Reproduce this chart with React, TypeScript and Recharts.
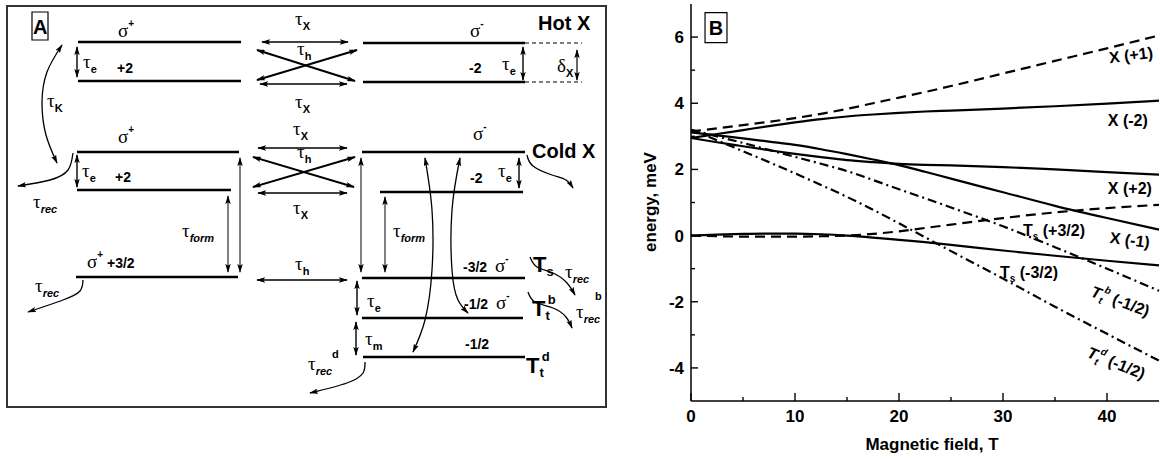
import React from 'react';
import { ComposedChart, Line, XAxis, YAxis, ReferenceLine, ReferenceArea, ReferenceDot } from 'recharts';

const SANS = '"Liberation Sans", Arial, Helvetica, sans-serif';
const SERIF = '"Liberation Serif", "Times New Roman", serif';

// ---------- panel A: level scheme (diagram units = pixels) ----------
// [x1, x2, y]
const levels = [
  [78, 241, 42], [78, 241, 81], [363, 525, 43], [363, 525, 82],
  [77, 239, 152], [77, 231, 190], [362, 525, 152], [380, 523, 192],
  [76, 238, 277], [362, 525, 278], [362, 523, 318], [363, 525, 357],
];

// [x1, y1, x2, y2, strokeWidth], double headed
const arrows = [
  [262, 42, 348, 42, 1.6], [260, 84, 347, 84, 1.6], [257, 50, 355, 81, 2], [257, 80, 357, 50, 2],
  [77, 47, 77, 77, 1.4], [523, 47, 523, 80, 1.4], [577, 50, 577, 80, 1.2],
  [258, 148, 347, 148, 1.6], [258, 193, 347, 193, 1.6], [253, 157, 354, 187, 2], [253, 187, 355, 157, 2],
  [77, 155, 77, 187, 1.4], [519, 158, 519, 188, 1.4],
  [228, 196, 228, 272, 1], [240, 158, 240, 272, 1], [361, 158, 361, 272, 1], [385, 197, 385, 272, 1],
  [257, 280, 347, 280, 1.4], [357, 281, 357, 315, 1.4], [356, 322, 356, 355, 1.4],
];

// dashed guides to the δX arrow
const guides = [[525, 43, 582, 43], [525, 82, 582, 82]];

// curved arrows
const curves = [
  { pts: [[62, 45], [47, 72], [42, 103], [46, 135], [57, 163]], both: true },
  { pts: [[73, 153], [68, 170], [50, 180], [18, 186]], both: false },
  { pts: [[83, 280], [80, 291], [63, 300], [28, 312]], both: false },
  { pts: [[527, 155], [533, 166], [552, 175], [566, 180], [573, 188]], both: false },
  { pts: [[530, 257], [537, 267], [553, 273], [567, 283], [575, 295]], both: false },
  { pts: [[528, 292], [535, 302], [553, 308], [566, 317], [572, 328]], both: false },
  { pts: [[365, 362], [363, 373], [347, 383], [310, 393]], both: false },
  { pts: [[425, 158], [432, 210], [432, 270], [425, 320], [413, 352]], both: true },
  { pts: [[460, 158], [452, 210], [452, 270], [458, 300], [468, 313]], both: true },
];

// [x, baseline y, parts]
const textsA: [number, number, [string, string][]][] = [
  [33, 34, [['A', 'big']]],
  [118, 37, [['σ', 'g'], ['+', 'sup']]],
  [470, 37, [['σ', 'g'], ['-', 'sup']]],
  [538, 30, [['Hot X', 'big']]],
  [295, 25, [['τ', 'g'], ['X', 'sub']]],
  [297, 55, [['τ', 'g'], ['h', 'sub']]],
  [295, 108, [['τ', 'g'], ['X', 'sub']]],
  [83, 68, [['τ', 'g'], ['e', 'sub']]],
  [117, 73, [['+2', 'b']]],
  [502, 70, [['τ', 'g'], ['e', 'sub']]],
  [469, 73, [['-2', 'b']]],
  [557, 72, [['δ', 'g'], ['X', 'sub']]],
  [47, 107, [['τ', 'g'], ['K', 'sub']]],
  [118, 143, [['σ', 'g'], ['+', 'sup']]],
  [473, 140, [['σ', 'g'], ['-', 'sup']]],
  [532, 158, [['Cold X', 'big']]],
  [293, 135, [['τ', 'g'], ['X', 'sub']]],
  [297, 158, [['τ', 'g'], ['h', 'sub']]],
  [293, 214, [['τ', 'g'], ['X', 'sub']]],
  [82, 177, [['τ', 'g'], ['e', 'sub']]],
  [115, 182, [['+2', 'b']]],
  [498, 177, [['τ', 'g'], ['e', 'sub']]],
  [470, 183, [['-2', 'b']]],
  [33, 208, [['τ', 'g'], ['rec', 'subi']]],
  [182, 237, [['τ', 'g'], ['form', 'subi']]],
  [393, 237, [['τ', 'g'], ['form', 'subi']]],
  [87, 268, [['σ', 'g'], ['+', 'sup'], [' +3/2', 'b']]],
  [35, 292, [['τ', 'g'], ['rec', 'subi']]],
  [295, 270, [['τ', 'g'], ['h', 'sub']]],
  [463, 272, [['-3/2  ', 'b'], ['σ', 'g'], ['-', 'sup']]],
  [533, 272, [['T', 'T'], ['s', 'subT']]],
  [565, 278, [['τ', 'g'], ['rec', 'subi']]],
  [367, 307, [['τ', 'g'], ['e', 'sub']]],
  [464, 309, [['-1/2  ', 'b'], ['σ', 'g'], ['-', 'sup']]],
  [532, 316, [['T', 'T'], ['t', 'subT'], ['b', 'supT']]],
  [576, 318, [['τ', 'g'], ['rec', 'subi']]],
  [595, 300, [['b', 'small']]],
  [365, 345, [['τ', 'g'], ['m', 'sub']]],
  [465, 349, [['-1/2', 'b']]],
  [526, 373, [['T', 'T'], ['t', 'subT'], ['d', 'supT']]],
  [308, 370, [['τ', 'g'], ['rec', 'subi']]],
  [332, 358, [['d', 'small']]],
];

// ---------- panel B: energy vs magnetic field ----------
const fields = [0, 2.5, 5, 7.5, 10, 12.5, 15, 17.5, 20, 22.5, 25, 30, 35, 40, 45];
const xPlus1 = [3.15, 3.24, 3.34, 3.44, 3.55, 3.68, 3.83, 4.0, 4.17, 4.34, 4.52, 4.9, 5.28, 5.66, 6.05];
const xMinus2 = [2.95, 3.07, 3.19, 3.31, 3.42, 3.52, 3.6, 3.66, 3.71, 3.75, 3.78, 3.84, 3.91, 3.99, 4.08];
const xPlus2 = [2.95, 2.82, 2.7, 2.58, 2.47, 2.37, 2.28, 2.22, 2.17, 2.14, 2.12, 2.07, 2.0, 1.92, 1.84];
const xMinus1 = [3.12, 3.03, 2.94, 2.84, 2.74, 2.61, 2.46, 2.3, 2.13, 1.93, 1.72, 1.31, 0.9, 0.53, 0.18];
const tsPlus = [0, -0.02, -0.03, -0.03, -0.03, -0.02, 0, 0.05, 0.13, 0.23, 0.33, 0.53, 0.7, 0.83, 0.93];
const tsMinus = [0, 0.03, 0.05, 0.06, 0.06, 0.04, 0, -0.06, -0.13, -0.2, -0.28, -0.45, -0.61, -0.76, -0.9];
const ttB = [3.2, 3.0, 2.8, 2.59, 2.38, 2.17, 1.95, 1.68, 1.4, 1.13, 0.85, 0.28, -0.35, -1.0, -1.67];
const ttD = [3.2, 2.88, 2.55, 2.22, 1.88, 1.53, 1.17, 0.78, 0.37, -0.05, -0.47, -1.3, -2.15, -2.97, -3.78];

const bTable = fields.map((f, i) => ({
  field: f, xPlus1: xPlus1[i], xMinus2: xMinus2[i], xPlus2: xPlus2[i], xMinus1: xMinus1[i],
  tsPlus: tsPlus[i], tsMinus: tsMinus[i], ttB: ttB[i], ttD: ttD[i],
}));

const DASH = '10 6';
const DASHDOT = '9 4 2 4';
const series = [
  { key: 'xPlus1', dash: DASH }, { key: 'xMinus2', dash: undefined }, { key: 'xPlus2', dash: undefined },
  { key: 'xMinus1', dash: undefined }, { key: 'tsPlus', dash: DASH }, { key: 'tsMinus', dash: undefined },
  { key: 'ttB', dash: DASHDOT }, { key: 'ttD', dash: DASHDOT },
];

const xTicks = [0, 5, 10, 15, 20, 25, 30, 35, 40];
const yTicks = [-4, -3, -2, -1, 0, 1, 2, 3, 4, 5, 6];

// [field, energy, rotation, parts]
const labelsB: [number, number, number, [string, string][]][] = [
  [42.3, 5.47, -7, [['X (+1)', 'bl']]],
  [42.0, 3.48, 0, [['X (-2)', 'bl']]],
  [42.2, 1.45, 0, [['X (+2)', 'bl']]],
  [42.2, -0.12, 7, [['X (-1)', 'bl']]],
  [34.9, 0.18, 0, [['T', 'bl'], ['s', 'bsub'], [' (+3/2)', 'bl']]],
  [32.5, -1.09, 0, [['T', 'bl'], ['s', 'bsub'], [' (-3/2)', 'bl']]],
  [41.3, -1.97, 20, [['T', 'bli'], ['t', 'bsubi'], ['b', 'bsupi'], [' (-1/2)', 'bl']]],
  [40.9, -3.84, 22, [['T', 'bli'], ['t', 'bsubi'], ['d', 'bsupi'], [' (-1/2)', 'bl']]],
];

type F = { family: string; size: number; weight?: string; style?: string; shift: number; dx?: number };
const FONT: Record<string, F> = {
  g: { family: SERIF, size: 19, shift: 0 },
  b: { family: SANS, size: 14, weight: 'bold', shift: 0 },
  big: { family: SANS, size: 20, weight: 'bold', shift: 0 },
  T: { family: SANS, size: 22, weight: 'bold', shift: 0 },
  small: { family: SANS, size: 11, weight: 'bold', shift: 0 },
  sub: { family: SANS, size: 11, weight: 'bold', shift: 5 },
  subi: { family: SANS, size: 11, weight: 'bold', style: 'italic', shift: 5 },
  sup: { family: SANS, size: 10, weight: 'bold', shift: -10 },
  subT: { family: SANS, size: 13, weight: 'bold', shift: 4 },
  supT: { family: SANS, size: 13, weight: 'bold', shift: -12, dx: -2 },
  bl: { family: SANS, size: 16, weight: 'bold', shift: 0 },
  bli: { family: SANS, size: 16, weight: 'bold', style: 'italic', shift: 0 },
  bsub: { family: SANS, size: 10, weight: 'bold', shift: 4 },
  bsubi: { family: SANS, size: 10, weight: 'bold', style: 'italic', shift: 4 },
  bsupi: { family: SANS, size: 10, weight: 'bold', style: 'italic', shift: -8, dx: -1 },
};

const RichText = ({ x, y, parts, anchor = 'start', rotate = 0 }: any) => {
  let prev = 0;
  return (
    <text x={x} y={y} textAnchor={anchor} fill="#000" style={{ whiteSpace: 'pre' }}
      transform={rotate ? `rotate(${rotate} ${x} ${y - 6})` : undefined}>
      {parts.map(([s, st]: [string, string], i: number) => {
        const f = FONT[st];
        const dy = f.shift - prev;
        prev = f.shift;
        return (
          <tspan key={i} dy={dy} dx={f.dx} fontFamily={f.family} fontSize={f.size}
            fontWeight={f.weight} fontStyle={f.style}>{s}</tspan>
        );
      })}
    </text>
  );
};

const arrowLine = (w: number, both: boolean) => (p: any) => (
  <line x1={p.x1} y1={p.y1} x2={p.x2} y2={p.y2} stroke="#000" strokeWidth={w}
    markerEnd="url(#ah)" markerStart={both ? 'url(#ah)' : undefined} />
);

const LeftTick = (p: any) => {
  const v = p.payload.value;
  const major = v % 2 === 0;
  return (
    <g>
      <line x1={p.x} x2={p.x + (major ? 7 : 4)} y1={p.y} y2={p.y} stroke="#000" strokeWidth={1.4} />
      {major && (
        <text x={p.x - 7} y={p.y + 6} textAnchor="end" fontFamily={SANS} fontWeight="bold" fontSize={17}>{v}</text>
      )}
    </g>
  );
};
const RightTick = (p: any) => {
  const major = p.payload.value % 2 === 0;
  return <line x1={p.x} x2={p.x - (major ? 7 : 4)} y1={p.y} y2={p.y} stroke="#000" strokeWidth={1.4} />;
};
const BottomTick = (p: any) => {
  const v = p.payload.value;
  const major = v % 10 === 0;
  return (
    <g>
      <line x1={p.x} x2={p.x} y1={p.y} y2={p.y - (major ? 8 : 4)} stroke="#000" strokeWidth={1.4} />
      {major && (
        <text x={p.x} y={p.y + 21} textAnchor="middle" fontFamily={SANS} fontWeight="bold" fontSize={17}>{v}</text>
      )}
    </g>
  );
};
const TopTick = (p: any) => {
  const major = p.payload.value % 10 === 0;
  return <line x1={p.x} x2={p.x} y1={p.y} y2={p.y + (major ? 8 : 4)} stroke="#000" strokeWidth={1.4} />;
};

const axisLine = { stroke: '#000', strokeWidth: 1.5 };

export default function App() {
  return (
    <div style={{ position: 'absolute', left: 0, top: 0, width: 1160, height: 459, background: '#fff' }}>
      <svg width={0} height={0} style={{ position: 'absolute' }}>
        <defs>
          <marker id="ah" viewBox="0 0 10 6" refX={9} refY={3} markerWidth={9} markerHeight={5.4}
            markerUnits="userSpaceOnUse" orient="auto-start-reverse">
            <path d="M0,0 L10,3 L0,6 L2,3 z" fill="#000" />
          </marker>
        </defs>
      </svg>

      <div style={{ position: 'absolute', left: 0, top: 0 }}>
        <ComposedChart width={620} height={420} margin={{ top: 0, right: 0, left: 0, bottom: 0 }}>
          <XAxis type="number" dataKey="x" domain={[0, 620]} hide allowDataOverflow />
          <YAxis type="number" dataKey="y" domain={[0, 420]} reversed hide allowDataOverflow />
          <ReferenceArea x1={7} x2={606} y1={6} y2={407} fill="none" stroke="#333" strokeWidth={2} ifOverflow="visible" />
          <ReferenceArea x1={32} x2={48} y1={12} y2={40} fill="#fff" stroke="#000" strokeWidth={1.2} />
          {levels.map(([x1, x2, y], i) => (
            <ReferenceLine key={`l${i}`} segment={[{ x: x1, y }, { x: x2, y }]} stroke="#000" strokeWidth={2.6} />
          ))}
          {guides.map(([x1, y1, x2, y2], i) => (
            <ReferenceLine key={`g${i}`} segment={[{ x: x1, y: y1 }, { x: x2, y: y2 }]} stroke="#000"
              strokeWidth={1} strokeDasharray="4 3" />
          ))}
          {arrows.map(([x1, y1, x2, y2, w], i) => (
            <ReferenceLine key={`a${i}`} segment={[{ x: x1, y: y1 }, { x: x2, y: y2 }]} shape={arrowLine(w, true)} />
          ))}
          {curves.map((c, i) => (
            <Line key={`c${i}`} data={c.pts.map(([x, y]) => ({ x, y }))} dataKey="y" type="natural"
              stroke="#000" strokeWidth={1.3} dot={false} activeDot={false} isAnimationActive={false}
              markerEnd="url(#ah)" markerStart={c.both ? 'url(#ah)' : undefined} />
          ))}
          {textsA.map(([x, y, parts], i) => (
            <ReferenceDot key={`t${i}`} x={x} y={y} r={0} ifOverflow="visible"
              shape={(p: any) => <RichText x={p.cx} y={p.cy} parts={parts} />} />
          ))}
        </ComposedChart>
      </div>

      <div style={{ position: 'absolute', left: 600, top: 0 }}>
        <ComposedChart width={560} height={459} data={bTable} margin={{ top: 4, right: 1, left: 31, bottom: 0 }}>
          <XAxis dataKey="field" type="number" domain={[0, 45]} ticks={xTicks} interval={0} height={58}
            tickSize={0} tickMargin={0} tickLine={false} axisLine={axisLine} tick={BottomTick}
            label={(p: any) => (
              <text x={332} y={450} textAnchor="middle" fontFamily={SANS} fontWeight="bold" fontSize={17}>
                Magnetic field, T
              </text>
            )} />
          <XAxis xAxisId="top" orientation="top" dataKey="field" type="number" domain={[0, 45]} ticks={xTicks}
            interval={0} height={0} tickSize={0} tickMargin={0} tickLine={false} axisLine={axisLine} tick={TopTick} />
          <YAxis type="number" domain={[-5, 7]} ticks={yTicks} interval={0} width={60} tickSize={0} tickMargin={0}
            tickLine={false} axisLine={axisLine} tick={LeftTick}
            label={(p: any) => (
              <text x={56} y={202} transform="rotate(-90 56 202)" textAnchor="middle" fontFamily={SANS}
                fontWeight="bold" fontSize={17}>energy, meV</text>
            )} />
          <YAxis yAxisId="right" orientation="right" type="number" domain={[-5, 7]} ticks={yTicks} interval={0}
            width={0} tickSize={0} tickMargin={0} tickLine={false} axisLine={axisLine} tick={RightTick} />
          {series.map((s) => (
            <Line key={s.key} dataKey={s.key} type="monotone" stroke="#000" strokeWidth={2.2}
              strokeDasharray={s.dash} dot={false} activeDot={false} isAnimationActive={false} />
          ))}
          <ReferenceArea x1={1.35} x2={3.46} y1={5.83} y2={6.74} fill="#fff" stroke="#000" strokeWidth={1.2} />
          <ReferenceDot x={2.4} y={6.28} r={0} shape={(p: any) => (
            <text x={p.cx} y={p.cy + 7} textAnchor="middle" fontFamily={SANS} fontWeight="bold" fontSize={20}>B</text>
          )} />
          {labelsB.map(([x, y, rot, parts], i) => (
            <ReferenceDot key={`b${i}`} x={x} y={y} r={0} ifOverflow="visible"
              shape={(p: any) => <RichText x={p.cx} y={p.cy + 6} parts={parts} anchor="middle" rotate={rot} />} />
          ))}
        </ComposedChart>
      </div>
    </div>
  );
}
